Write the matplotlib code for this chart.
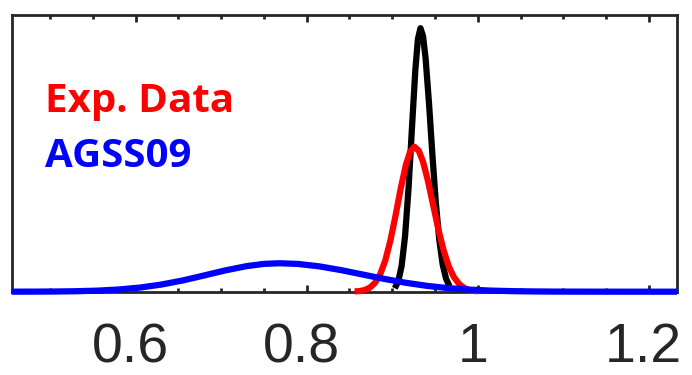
import matplotlib
matplotlib.use("Agg")
import matplotlib.pyplot as plt
from matplotlib.ticker import MultipleLocator, FixedLocator
from matplotlib.transforms import ScaledTranslation

# ---- data ----
black_x = [0.903, 0.907, 0.911, 0.915, 0.919, 0.923, 0.927, 0.930, 0.933,
           0.936, 0.939, 0.943, 0.947, 0.951, 0.955, 0.959, 0.963, 0.967]
black_y = [0.013, 0.039, 0.098, 0.211, 0.390, 0.618, 0.841, 0.958, 1.000,
           0.970, 0.886, 0.715, 0.518, 0.337, 0.197, 0.103, 0.049, 0.021]

red_x = [0.856, 0.862, 0.868, 0.874, 0.880, 0.886, 0.892, 0.898, 0.904, 0.910,
         0.916, 0.921, 0.926, 0.931, 0.936, 0.942, 0.948, 0.954, 0.960, 0.966,
         0.972, 0.978, 0.984, 0.990, 0.996, 1.000]
red_y = [0.001, 0.0025, 0.0066, 0.0157, 0.034, 0.067, 0.120, 0.196, 0.291, 0.393,
         0.482, 0.532, 0.550, 0.535, 0.494, 0.417, 0.326, 0.236, 0.158, 0.097,
         0.056, 0.030, 0.0145, 0.0065, 0.0028, 0.0015]

blue_x = [0.455, 0.480, 0.505, 0.530, 0.555, 0.580, 0.605, 0.630, 0.655, 0.680,
          0.705, 0.730, 0.750, 0.768, 0.790, 0.815, 0.840, 0.865, 0.890, 0.915,
          0.940, 0.965, 0.990, 1.015, 1.040, 1.065, 1.090, 1.140, 1.190, 1.233]
blue_y = [0.0001, 0.0003, 0.0007, 0.0018, 0.0040, 0.0083, 0.0157, 0.0271, 0.0427, 0.0616,
          0.0810, 0.0972, 0.1055, 0.1080, 0.1053, 0.0960, 0.0820, 0.0655, 0.0490, 0.0343,
          0.0224, 0.0137, 0.0079, 0.0042, 0.0021, 0.0010, 0.0004, 0.0001, 0.0, 0.0]

major_ticks = [0.6, 0.8, 1.0, 1.2]
tick_labels = ["0.6", "0.8", "1", "1.2"]
legend_texts = ["Exp. Data", "AGSS09"]

# ---- figure ----
fig = plt.figure(figsize=(6.92, 3.75), dpi=100)
ax = fig.add_axes([11.7 / 692, 83.3 / 375, (677 - 11.7) / 692, (360 - 83.3) / 375])

lw = 4.5
ax.plot(black_x, black_y, color="black", lw=lw, clip_on=False, solid_capstyle="butt", zorder=3)
ax.plot(red_x, red_y, color="#ff0000", lw=lw, clip_on=False, solid_capstyle="butt", zorder=4)
ax.plot(blue_x, blue_y, color="#0000ff", lw=lw, clip_on=False, solid_capstyle="butt", zorder=5)

ax.set_xlim(0.455, 1.233)
ax.set_ylim(0, 1.05)

edge = "#262626"
for s in ax.spines.values():
    s.set_color(edge)
    s.set_linewidth(2.0)
    s.set_zorder(2)

ax.xaxis.set_major_locator(FixedLocator(major_ticks))
ax.set_xticklabels(tick_labels)
ax.xaxis.set_minor_locator(MultipleLocator(0.05))
ax.tick_params(axis="x", which="both", direction="in", top=True, bottom=True,
               color=edge, width=2.0)
ax.tick_params(axis="x", which="major", length=5, labelsize=40, pad=22,
               labelcolor=edge)
ax.tick_params(axis="x", which="minor", length=3)
ax.tick_params(axis="y", left=False, right=False, labelleft=False)
for lab in ax.get_xticklabels():
    lab.set_fontfamily("Liberation Sans")
    lab.set_transform(lab.get_transform() + ScaledTranslation(-5 / 100, 0, fig.dpi_scale_trans))

ax.text(0.05, 0.649, legend_texts[0], transform=ax.transAxes, color="#ff0000",
        fontsize=29, fontweight="bold", family="Open Sans", va="baseline", ha="left")
ax.text(0.05, 0.451, legend_texts[1], transform=ax.transAxes, color="#0000ff",
        fontsize=29, fontweight="bold", family="Open Sans", va="baseline", ha="left")

fig.savefig("out.png", dpi=100)
